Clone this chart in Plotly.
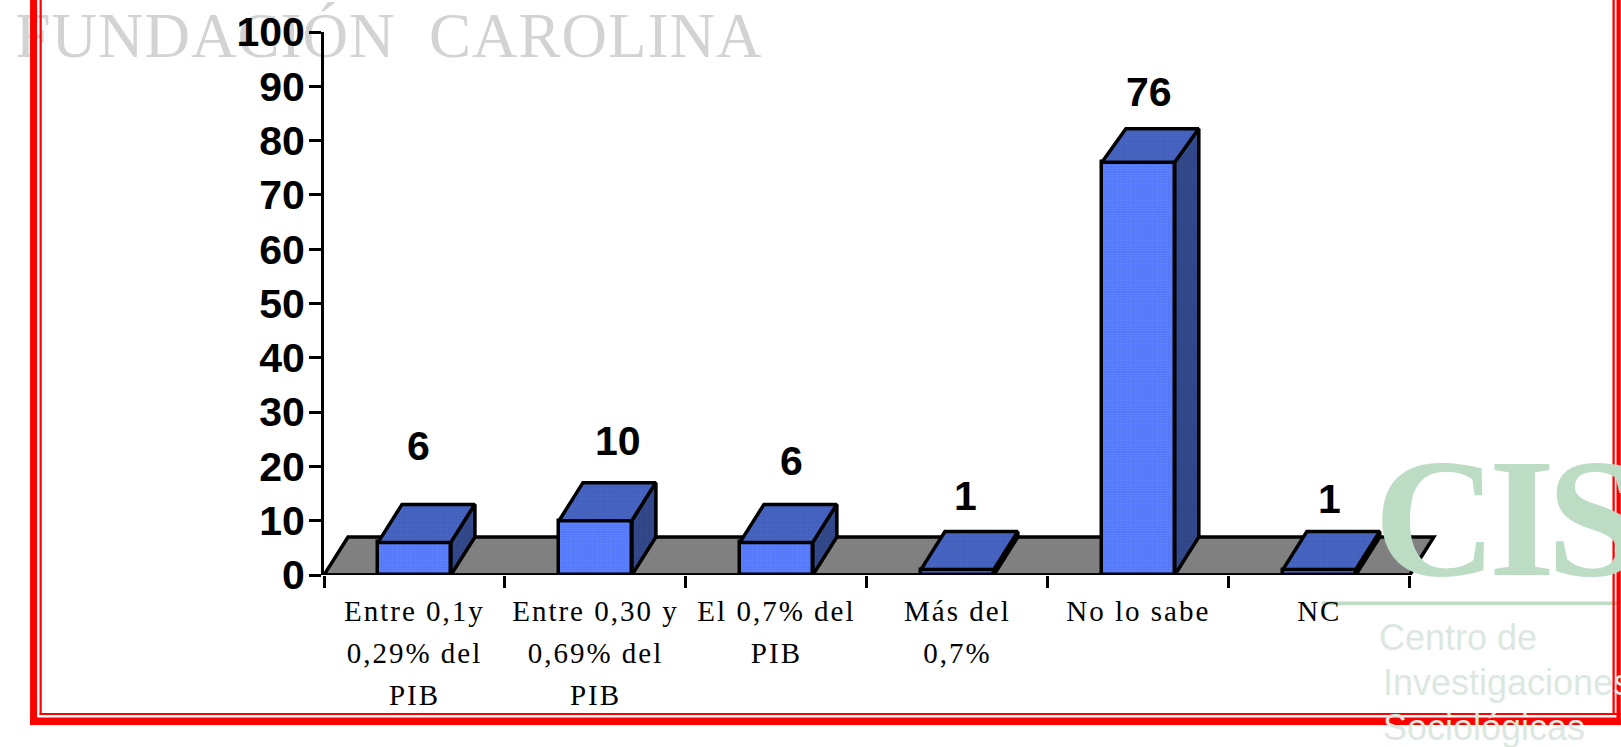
import plotly.graph_objects as go

categories = ["Entre 0,1y<br>0,29% del<br>PIB", "Entre 0,30 y<br>0,69% del<br>PIB", "El 0,7% del<br>PIB",
              "Más del<br>0,7%", "No lo sabe", "NC"]
values = [6, 10, 6, 1, 76, 1]
y_ticks = list(range(0, 101, 10))
label_dx = [-8, 11, 3, -4, -1, -2]    # px shift of value labels
label_gap = [58, 42, 43, 36, 37, 33]  # px above the back-top edge
bar_depth = [7, 7, 7, 7, 6.2, 7]      # depth of each box, in axis units

W, H = 1621, 747
L, R, T, B = 324, 1446.2, 32, 575
BAR_W = 0.403
DX = 24 / 181
DY = 7.0
LW = 3.5
FRONT = dict(fillmode="overlay", shape=".", size=2.5, solidity=0.4, fgcolor="#7ea2ff", bgcolor="#4f74fa")
TOP = dict(fillmode="overlay", shape=".", size=2.5, solidity=0.4, fgcolor="#5f80e0", bgcolor="#3f5cb8")
SIDE = dict(fillmode="overlay", shape=".", size=2.5, solidity=0.4, fgcolor="#46629f", bgcolor="#2c4284")
SERIF = "Liberation Serif"
SANS = "Liberation Sans"


def px(x):
    return (x - L) / (R - L)


def py(y):
    return 1 - (y - T) / (B - T)


xs = list(range(len(values)))
fig = go.Figure()

# watermark as a text trace so the axis tick labels stay on top of it
fig.add_trace(go.Scatter(x=[-0.5 + (389 - L) / 181], y=[(B - 41) / (B - T) * 100], mode="text",
                         text=['<span style="letter-spacing:1px;white-space:pre">FUNDACIÓN  CAROLINA</span>'],
                         textposition="middle center", cliponaxis=False, hoverinfo="skip",
                         textfont=dict(size=63, color="#d3d3d3", family=SERIF)))

fig.add_trace(go.Bar(x=xs, y=values, width=BAR_W, hoverinfo="skip",
                     marker=dict(pattern=FRONT, line=dict(color="black", width=LW))))

for x, v, d in zip(xs, values, bar_depth):
    l, r = x - BAR_W / 2, x + BAR_W / 2
    fig.add_trace(go.Scatter(x=[l, l + DX, r + DX, r, l], y=[v, v + d, v + d, v, v], mode="lines",
                             fill="toself", fillpattern=TOP, line=dict(color="black", width=LW),
                             cliponaxis=False, hoverinfo="skip"))
    fig.add_trace(go.Scatter(x=[r, r + DX, r + DX, r, r], y=[v, v + d, DY, 0, v], mode="lines",
                             fill="toself", fillpattern=SIDE, line=dict(color="black", width=LW),
                             cliponaxis=False, hoverinfo="skip"))

fig.add_trace(go.Scatter(x=[-0.5, 5.5], y=[0, 0], mode="lines", line=dict(color="black", width=LW),
                         cliponaxis=False, hoverinfo="skip"))

shapes = [
    dict(type="path", xref="x", yref="y", layer="below", fillcolor="#808080",
         line=dict(color="black", width=LW),
         path=f"M -0.5 0 L {-0.5 + DX} {DY} L {5.5 + DX} {DY} L 5.5 0 Z"),
]


def rect(x0, y0, x1, y1, color, layer="above"):
    return dict(type="rect", xref="paper", yref="paper", layer=layer, x0=px(x0), x1=px(x1),
                y0=py(y1), y1=py(y0), fillcolor=color, line=dict(width=0))


RED = "#ff0000"
shapes += [
    rect(30, -5, 37, 725, RED), rect(39.5, -5, 41.7, 715, RED),
    rect(30, 717.5, 1621, 725, RED), rect(39.5, 713, 1621, 715, RED),
    rect(1612.7, -5, 1615, 715, RED), rect(1616.7, -5, 1621, 725, RED),
    rect(1322, 601.5, 1621, 605, "#bcdcc4", "below"),
]


def note(text, x, y, size, color, family, weight="normal", extra=""):
    t = f'<span style="{extra}">{text}</span>' if extra else text
    return dict(text=t, xref="paper", yref="paper", x=px(x), y=py(y), xanchor="left", yanchor="middle",
                showarrow=False, font=dict(size=size, color=color, family=family, weight=weight))


annotations = [
    note("CIS", 1372, 518, 170, "#bcdcc4", SERIF, weight="bold", extra="letter-spacing:-8px"),
    note("Centro de", 1377, 637, 36, "#dce8df", SANS),
    note("Investigaciones", 1381, 682, 36, "#dce8df", SANS),
    note("Sociológicas", 1381, 727, 36, "#dce8df", SANS),
]
for x, v, d, dx, gap in zip(xs, values, bar_depth, label_dx, label_gap):
    annotations.append(dict(x=x + DX / 2, y=v + d, xref="x", yref="y", text=f"<b>{v}</b>", showarrow=False,
                            xanchor="center", yanchor="middle", xshift=dx, yshift=gap,
                            font=dict(size=41, color="black", family=SANS)))

span = '<span style="font-size:29px;letter-spacing:2px">'
ticktext = ["<br>".join(span + part + "</span>" for part in c.split("<br>")) for c in categories]

fig.update_layout(
    width=W, height=H, margin=dict(l=L, r=W - R, t=T, b=H - B, pad=0, autoexpand=False),
    paper_bgcolor="white", plot_bgcolor="rgba(0,0,0,0)", showlegend=False, shapes=shapes,
    annotations=annotations, bargap=0,
    xaxis=dict(range=[-0.5, 5.7], tickmode="array", tickvals=xs, ticktext=ticktext, ticks="", showgrid=False,
               zeroline=False, showline=False, ticklabelstandoff=12,
               tickfont=dict(size=32.5, color="black", family=SERIF),
               minor=dict(tickmode="array", tickvals=[i - 0.5 for i in range(7)], ticks="outside", ticklen=12,
                          tickwidth=2.5, tickcolor="black", showgrid=False)),
    yaxis=dict(range=[0, 100], tickmode="array", tickvals=y_ticks, ticks="outside", ticklen=12, tickwidth=3,
               tickcolor="black", showline=True, linecolor="black", linewidth=3, showgrid=False, zeroline=False,
               tickfont=dict(size=41, color="black", family=SANS, weight="bold"), ticklabelstandoff=-4),
)
fig.write_html("out.html", config=dict(displayModeBar=False),
               post_script="document.body.style.margin='0';document.body.style.overflow='hidden';")
